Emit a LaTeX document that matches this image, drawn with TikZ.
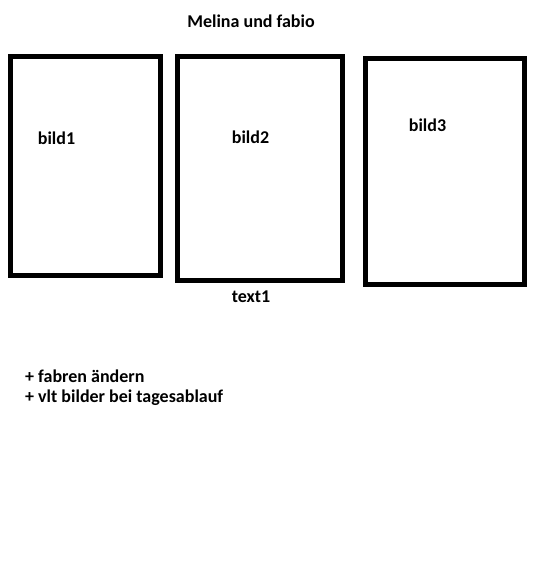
\documentclass[tikz,border=0pt]{standalone}
\usepackage{fontspec}
\setmainfont{Carlito}
\begin{document}
\begin{tikzpicture}[x=1pt,y=-1pt,
  frame/.style={draw=black,line width=5pt},
  lbl/.style={font=\bfseries\fontsize{18}{21}\selectfont,inner sep=0pt}]
\useasboundingbox[fill=white] (0,0) rectangle (533,572);
\node[lbl] (title) at (251,21) {Melina und fabio};
\draw[frame] (10.5,56.5) rectangle (160,275.5);
\draw[frame] (177,56.5) rectangle (342,280.5);
\draw[frame] (365,59) rectangle (524,284);
\node[lbl] (b1) at (56.5,138.5) {bild1};
\node[lbl] (b2) at (250.5,137) {bild2};
\node[lbl] (b3) at (427.5,125.5) {bild3};
\node[lbl] (t1) at (251,297) {text1};
\node[lbl,anchor=west] (l1) at (25,376) {+ fabren ändern};
\node[lbl,anchor=west] (l2) at (25,398) {+ vlt bilder bei tagesablauf};
\end{tikzpicture}
\end{document}
